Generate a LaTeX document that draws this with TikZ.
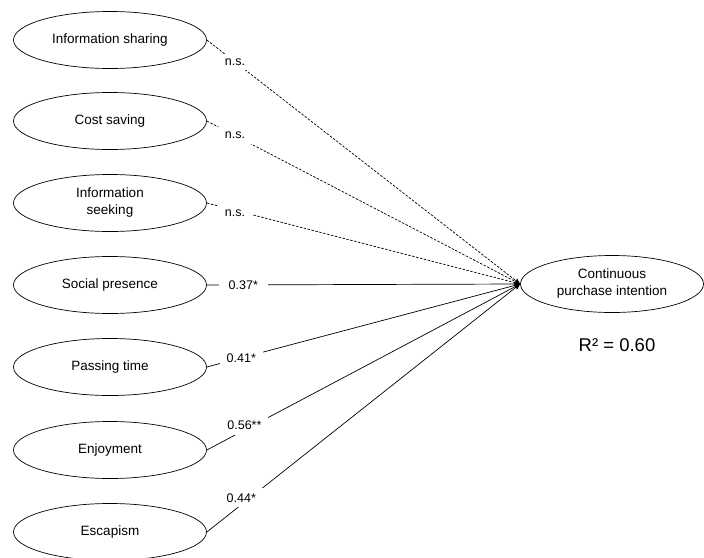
\documentclass[tikz,border=0pt]{standalone}
\usepackage{fontspec}
\setmainfont{Liberation Sans}
\usetikzlibrary{arrows.meta, shapes.geometric}
\begin{document}
\begin{tikzpicture}[x=1pt, y=-1pt,
  construct/.style={ellipse, draw, line width=0.7pt, minimum width=193pt, minimum height=57pt, inner sep=0pt, align=center, font=\fontsize{13.5}{17}\selectfont},
  link/.style={line width=0.7pt, -{Stealth[length=6pt, width=5pt]}},
  ns/.style={link, dash pattern=on 2.5pt off 1.5pt},
  coef/.style={fill=white, inner xsep=7pt, inner ysep=5pt, font=\fontsize{12.5}{15}\selectfont}]
\useasboundingbox (0,0) rectangle (704,557);
\node[construct] (shr) at (110,40){Information sharing};
\node[construct] (cst) at (110,121){Cost saving};
\node[construct] (skg) at (110,203){Information\\seeking};
\node[construct] (soc) at (110,285){Social presence};
\node[construct] (pas) at (110,367){Passing time};
\node[construct] (enj) at (110,450){Enjoyment};
\node[construct] (esc) at (110,532){Escapism};
\node[construct, minimum width=183pt] (cpi) at (612,284){Continuous\\purchase intention};
\node[font=\fontsize{18.5}{22}\selectfont] (rsq) at (617,345){R² = 0.60};
\draw[ns](shr.east) -- node[coef, pos=.09]{n.s.} (cpi.west);
\draw[ns](cst.east) -- node[coef, pos=.09]{n.s.} (cpi.west);
\draw[ns](skg.east) -- node[coef, pos=.09, yshift=-3pt]{n.s.} (cpi.west);
\draw[link](soc.east) -- node[coef, pos=.11, xshift=2pt, inner xsep=10pt]{0.37*} (cpi.west);
\draw[link](pas.east) -- node[coef, pos=.11]{0.41*} (cpi.west);
\draw[link](enj.east) -- node[coef, pos=.12, yshift=5pt]{0.56**} (cpi.west);
\draw[link](esc.east) -- node[coef, pos=.11, yshift=7pt]{0.44*} (cpi.west);
\end{tikzpicture}
\end{document}
